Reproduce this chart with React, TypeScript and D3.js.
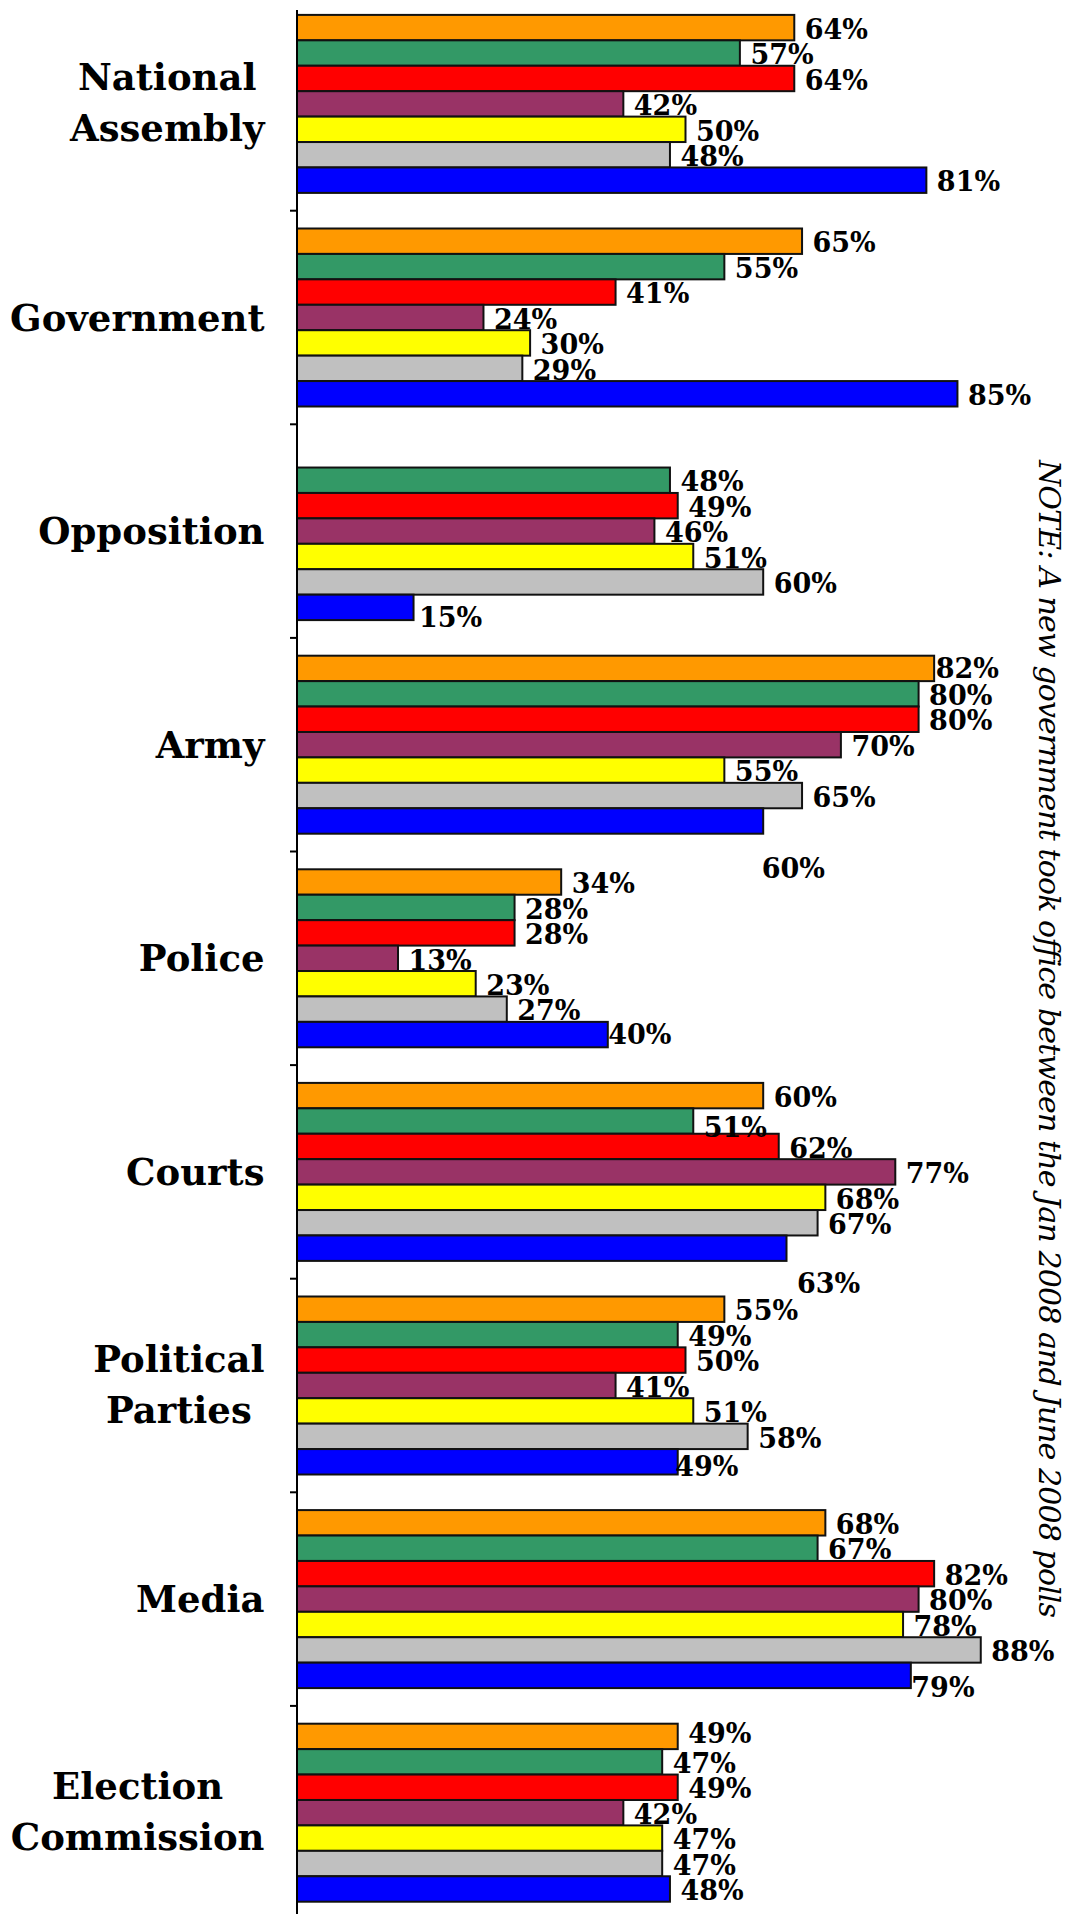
import { useEffect, useRef } from 'react';
import * as d3 from 'd3';

const categories = [
  'National Assembly',
  'Government',
  'Opposition',
  'Army',
  'Police',
  'Courts',
  'Political Parties',
  'Media',
  'Election Commission',
];

const seriesKeys = ['poll1', 'poll2', 'poll3', 'poll4', 'poll5', 'poll6', 'poll7'];
const seriesColors = ['#FF9900', '#339966', '#FF0000', '#993366', '#FFFF00', '#C0C0C0', '#0000FF'];

// one array per series, in category order (null = not asked)
const poll1 = [64, 65, null, 82, 34, 60, 55, 68, 49];
const poll2 = [57, 55, 48, 80, 28, 51, 49, 67, 47];
const poll3 = [64, 41, 49, 80, 28, 62, 50, 82, 49];
const poll4 = [42, 24, 46, 70, 13, 77, 41, 80, 42];
const poll5 = [50, 30, 51, 55, 23, 68, 51, 78, 47];
const poll6 = [48, 29, 60, 65, 27, 67, 58, 88, 47];
const poll7 = [81, 85, 15, 60, 40, 63, 49, 79, 48];
const seriesValues = [poll1, poll2, poll3, poll4, poll5, poll6, poll7];

const note = 'NOTE: A new government took office between the Jan 2008 and June 2008 polls';

// labels that sit away from their default spot: "category|series" -> [dx, dy]
const labelNudge: Record<string, [number, number]> = {
  'Opposition|6': [-5, 8],
  'Army|0': [-9, -1.5],
  'Army|6': [-12, 46],
  'Police|6': [-10, -1.5],
  'Courts|1': [0, 4.5],
  'Courts|6': [0, 34],
  'Political Parties|6': [-13, 2.5],
  'Media|6': [-10, 10.5],
  'Election Commission|0': [0, -5],
};

const W = 1066;
const H = 1914;

export default function App() {
  const ref = useRef<SVGSVGElement>(null);

  useEffect(() => {
    if (!ref.current) return;
    const svg = d3.select(ref.current);
    svg.selectAll('*').remove();

    const x = d3.scaleLinear().domain([0, 100]).range([297, 1074]);
    const y = d3.scaleBand<string>().domain(categories).range([-2.9, -2.9 + 9 * 213.6]);
    const inner = d3
      .scaleBand<string>()
      .domain(seriesKeys)
      .range([0, y.bandwidth()])
      .paddingInner(0)
      .paddingOuter(0.7);

    svg.append('rect').attr('width', W).attr('height', H).attr('fill', '#fff');

    type Cell = { cat: string; ci: number; si: number; v: number };
    const cells: Cell[] = [];
    categories.forEach((cat, ci) => {
      seriesValues.forEach((vals, si) => {
        const v = vals[ci];
        if (v != null) cells.push({ cat, ci, si, v });
      });
    });

    const barY = (d: Cell) => (y(d.cat) || 0) + (inner(seriesKeys[d.si]) || 0);

    svg
      .append('g')
      .selectAll('rect')
      .data(cells)
      .enter()
      .append('rect')
      .attr('x', x(0))
      .attr('y', barY)
      .attr('width', (d) => x(d.v) - x(0))
      .attr('height', inner.bandwidth())
      .attr('fill', (d) => seriesColors[d.si])
      .attr('stroke', '#111')
      .attr('stroke-width', 2);

    // axis line + category separators
    const axis = svg.append('g').attr('stroke', '#000').attr('stroke-width', 2);
    axis.append('line').attr('x1', x(0)).attr('x2', x(0)).attr('y1', 10).attr('y2', H);
    axis
      .selectAll('line.tick')
      .data(categories.slice(1))
      .enter()
      .append('line')
      .attr('class', 'tick')
      .attr('x1', x(0) - 7)
      .attr('x2', x(0))
      .attr('y1', (c) => y(c) || 0)
      .attr('y2', (c) => y(c) || 0);

    // value labels
    const fs = 27;
    svg
      .append('g')
      .attr('font-family', '"DejaVu Serif", Georgia, serif')
      .attr('font-weight', 'bold')
      .attr('font-size', fs)
      .attr('fill', '#000')
      .selectAll('text')
      .data(cells)
      .enter()
      .append('text')
      .attr('x', (d) => x(d.v) + 10.5 + (labelNudge[`${d.cat}|${d.si}`]?.[0] || 0))
      .attr(
        'y',
        (d) => barY(d) + inner.bandwidth() / 2 + 1.5 + (labelNudge[`${d.cat}|${d.si}`]?.[1] || 0) + fs * 0.36
      )
      .text((d) => `${d.v}%`);

    // category labels, multi-line ones centred on their widest line
    const rightEdge = 264.5;
    const catG = svg
      .append('g')
      .attr('font-family', '"DejaVu Serif", Georgia, serif')
      .attr('font-weight', 'bold')
      .attr('font-size', 37)
      .attr('fill', '#000');
    categories.forEach((cat) => {
      const lines = cat.split(' ');
      const cy = (y(cat) || 0) + y.bandwidth() / 2;
      const t = catG.append('text');
      if (lines.length === 1) {
        t.attr('x', rightEdge).attr('y', cy + 13).attr('text-anchor', 'end').text(cat);
        return;
      }
      const spans = lines.map((ln, i) =>
        t
          .append('tspan')
          .attr('y', cy - 14 + i * 51)
          .text(ln)
      );
      const maxW = d3.max(spans, (s) => (s.node() as SVGTSpanElement).getComputedTextLength()) || 0;
      spans.forEach((s) => s.attr('x', rightEdge - maxW / 2));
      t.attr('text-anchor', 'middle');
    });

    // rotated note on the right
    svg
      .append('text')
      .attr('transform', 'translate(1039,460) rotate(90)')
      .attr('font-family', '"DejaVu Serif", Georgia, serif')
      .attr('font-style', 'italic')
      .attr('font-size', 30)
      .attr('fill', '#000')
      .attr('textLength', 1158)
      .attr('lengthAdjust', 'spacing')
      .text(note);
  }, []);

  return (
    <svg
      ref={ref}
      width={W}
      height={H}
      style={{ position: 'absolute', left: 0, top: 0, display: 'block' }}
      role="img"
      aria-label="Trust in institutions by poll"
    />
  );
}
